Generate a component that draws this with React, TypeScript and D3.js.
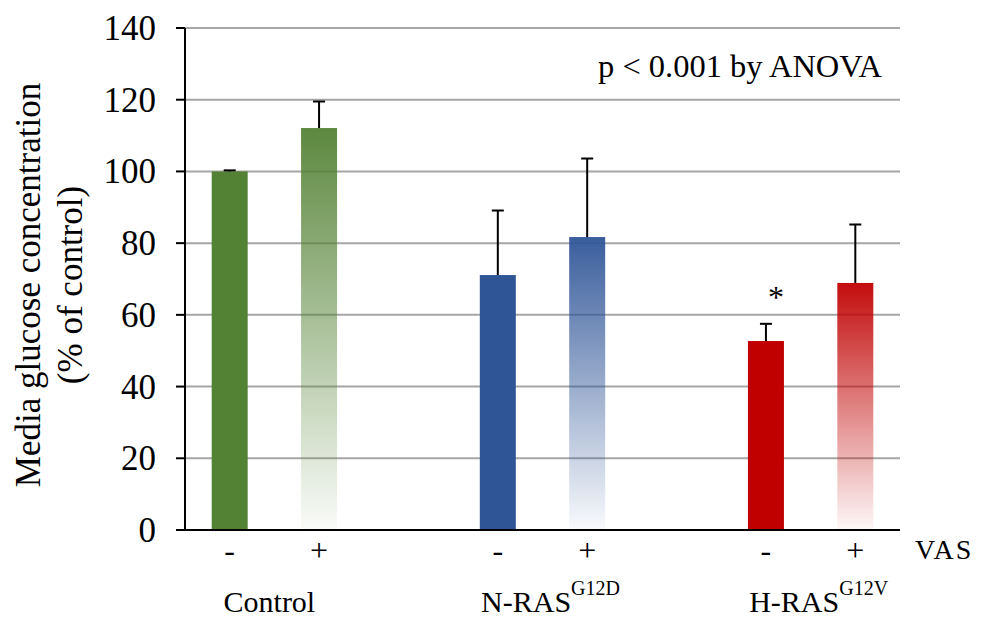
import React from "react";
import * as d3 from "d3";

const slots = ["C-", "C+", "gap1", "N-", "N+", "gap2", "H-", "H+"];
const barKeys = ["C-", "C+", "N-", "N+", "H-", "H+"];
const barValues = [100, 112.1, 71.1, 81.7, 52.7, 68.9];
const errorTops = [100.3, 119.5, 89.1, 103.6, 57.5, 85.2];
const vasLabels = ["-", "+", "-", "+", "-", "+"];
const barColors = ["#548235", "#548235", "#2F5597", "#2F5597", "#C00000", "#C00000"];
const gradientBars = [false, true, false, true, false, true];
const groups = [
  { main: "Control", sup: "", slots: ["C-", "C+"] },
  { main: "N-RAS", sup: "G12D", slots: ["N-", "N+"] },
  { main: "H-RAS", sup: "G12V", slots: ["H-", "H+"] },
];
const yTicks = [0, 20, 40, 60, 80, 100, 120, 140];
const starSlot = "H-";
const starValue = 63;

const W = 982;
const H = 618;
const left = 185;
const right = 900;
const top = 28;
const bottom = 530;
const font = "'Liberation Serif', 'Times New Roman', serif";

export default function App() {
  const x = d3.scaleBand<string>().domain(slots).range([left, right]).paddingInner(0).paddingOuter(0);
  const y = d3.scaleLinear().domain([0, 140]).range([bottom, top]);
  const bw = 36;
  const cx = (k: string) => (x(k) as number) + x.bandwidth() / 2;

  return (
    <svg width={W} height={H} style={{ position: "absolute", left: 0, top: 0, background: "#fff" }}>
      <defs>
        {barKeys.map((k, i) => (
          <linearGradient key={k} id={`g${i}`} x1="0" y1="0" x2="0" y2="1">
            <stop offset="0" stopColor={barColors[i]} stopOpacity={gradientBars[i] ? 0.95 : 1} />
            <stop offset="1" stopColor={barColors[i]} stopOpacity={gradientBars[i] ? 0.03 : 1} />
          </linearGradient>
        ))}
      </defs>
      {yTicks.filter((t) => t > 0).map((t) => (
        <line key={t} x1={left} x2={right} y1={y(t)} y2={y(t)} stroke="#a6a6a6" strokeWidth={2} />
      ))}
      {barKeys.map((k, i) => (
        <rect key={k} x={cx(k) - bw / 2} y={y(barValues[i])} width={bw} height={y(0) - y(barValues[i])} fill={`url(#g${i})`} />
      ))}
      {barKeys.map((k, i) => (
        <g key={k} stroke="#000" strokeWidth={2}>
          <line x1={cx(k)} x2={cx(k)} y1={y(barValues[i])} y2={y(errorTops[i])} />
          <line x1={cx(k) - 6} x2={cx(k) + 6} y1={y(errorTops[i])} y2={y(errorTops[i])} />
        </g>
      ))}
      <line x1={left} x2={left} y1={top} y2={bottom} stroke="#000" strokeWidth={2} />
      <line x1={left - 9} x2={right} y1={bottom} y2={bottom} stroke="#000" strokeWidth={2} />
      {yTicks.map((t) => (
        <g key={t}>
          <line x1={left - 9} x2={left} y1={y(t)} y2={y(t)} stroke="#000" strokeWidth={2} />
          <text x={156} y={y(t) + 12} textAnchor="end" fontFamily={font} fontSize={35} fill="#000">
            {t}
          </text>
        </g>
      ))}
      <g transform={`translate(40, 285) rotate(-90)`}>
        <text x={0} y={0} textAnchor="middle" fontFamily={font} fontSize={35} fill="#000">
          Media glucose concentration
        </text>
        <text x={0} y={42} textAnchor="middle" fontFamily={font} fontSize={35} fill="#000">
          (% of control)
        </text>
      </g>
      {barKeys.map((k, i) => (
        <text key={k} x={cx(k)} y={561} textAnchor="middle" fontFamily={font} fontSize={32} fill="#000">
          {vasLabels[i]}
        </text>
      ))}
      <text x={915} y={559} fontFamily={font} fontSize={28} letterSpacing={2} fill="#000">
        VAS
      </text>
      {groups.map((g) => {
        const c = (cx(g.slots[0]) + cx(g.slots[1])) / 2;
        return (
          <text key={g.main} x={c + (g.sup ? 8 : -5)} y={612} textAnchor="middle" fontFamily={font} fontSize={30} fill="#000">
            {g.main}
            {g.sup && (
              <tspan fontSize={20} dy={-17}>
                {g.sup}
              </tspan>
            )}
          </text>
        );
      })}
      <text x={598} y={77} fontFamily={font} fontSize={32.5} fill="#000">
        p &lt; 0.001 by ANOVA
      </text>
      <text x={cx(starSlot) + 10} y={y(starValue) + 4} textAnchor="middle" fontFamily={font} fontSize={32} fill="#000">
        *
      </text>
    </svg>
  );
}
